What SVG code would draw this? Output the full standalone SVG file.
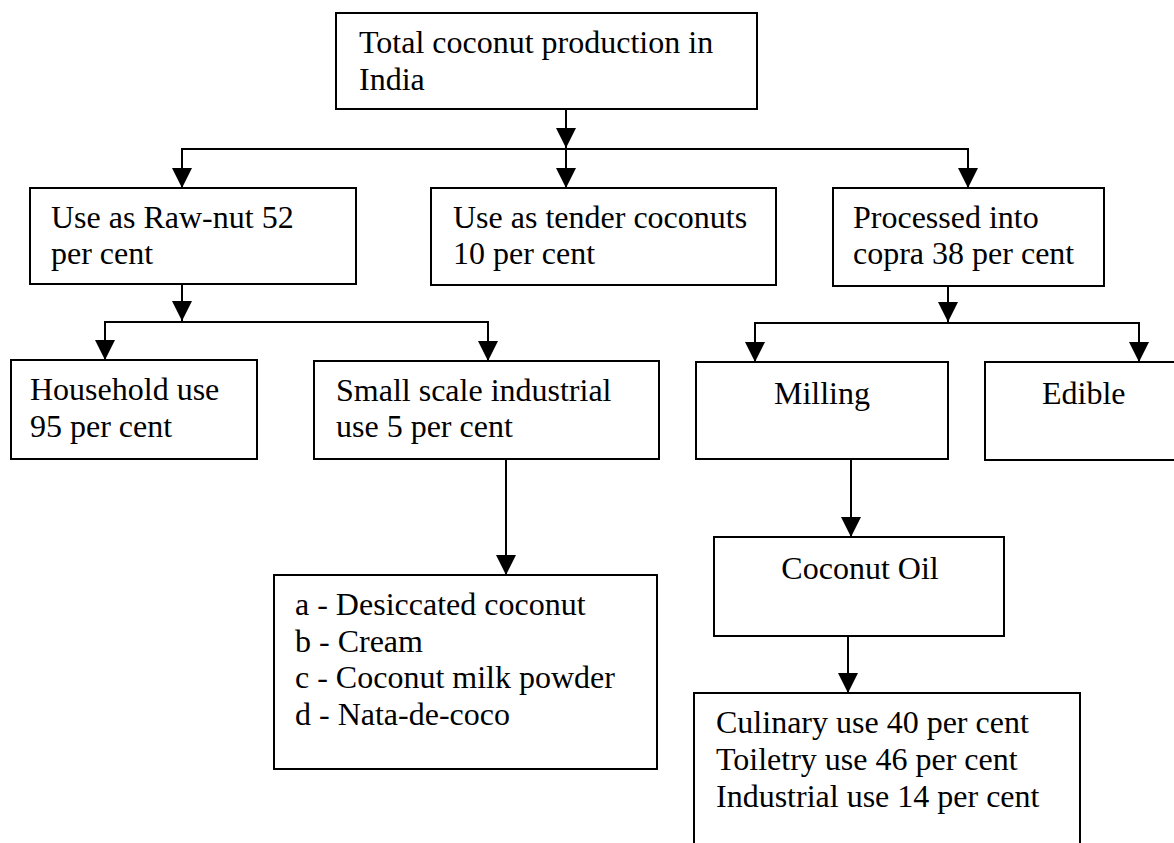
<svg xmlns="http://www.w3.org/2000/svg" width="1174" height="843" viewBox="0 0 1174 843">
<style>
.box{fill:#fff;stroke:#000;stroke-width:2}
.t{font-family:"Liberation Serif","Times New Roman",serif;font-size:32px;fill:#000}
.c{text-anchor:middle}
.ln{fill:none;stroke:#000;stroke-width:2}
.ar{marker-end:url(#arr)}
</style>
<defs>
<marker id="arr" markerUnits="userSpaceOnUse" markerWidth="20" markerHeight="20" viewBox="0 0 20 20" refX="20" refY="10" orient="auto">
<path d="M0,0 L20,10 L0,20 z" fill="#000"/>
</marker>
</defs>
<rect width="1174" height="843" fill="#fff"/>
<g id="connectors">
<path class="ln ar" d="M566 109 V148"/>
<path class="ln ar" d="M566 149 H182 V188"/>
<path class="ln ar" d="M566 149 V188"/>
<path class="ln ar" d="M566 149 H968 V188"/>
<path class="ln ar" d="M182 284 V321"/>
<path class="ln ar" d="M182 322 H105 V360"/>
<path class="ln ar" d="M182 322 H488 V361"/>
<path class="ln ar" d="M948 286 V322"/>
<path class="ln ar" d="M948 323 H755 V362"/>
<path class="ln ar" d="M948 323 H1139 V362"/>
<path class="ln ar" d="M506 459 V575"/>
<path class="ln ar" d="M851 459 V537"/>
<path class="ln ar" d="M848 636 V693"/>
</g>
<g id="total">
<rect class="box" x="336" y="13" width="421" height="96"/>
<text class="t" x="359" y="53">Total coconut production in</text>
<text class="t" x="359" y="90">India</text>
</g>
<g id="rawnut">
<rect class="box" x="30" y="188" width="326" height="96"/>
<text class="t" x="51" y="228">Use as Raw-nut 52</text>
<text class="t" x="51" y="264">per cent</text>
</g>
<g id="tender">
<rect class="box" x="431" y="188" width="345" height="97"/>
<text class="t" x="453" y="228">Use as tender coconuts</text>
<text class="t" x="453" y="264">10 per cent</text>
</g>
<g id="copra">
<rect class="box" x="833" y="188" width="271" height="98"/>
<text class="t" x="853" y="228">Processed into</text>
<text class="t" x="853" y="264">copra 38 per cent</text>
</g>
<g id="household">
<rect class="box" x="11" y="360" width="246" height="99"/>
<text class="t" x="30" y="400">Household use</text>
<text class="t" x="30" y="437">95 per cent</text>
</g>
<g id="smallscale">
<rect class="box" x="314" y="361" width="345" height="98"/>
<text class="t" x="336" y="401">Small scale industrial</text>
<text class="t" x="336" y="437">use 5 per cent</text>
</g>
<g id="milling">
<rect class="box" x="696" y="362" width="252" height="97"/>
<text class="t c" x="822" y="404">Milling</text>
</g>
<g id="edible">
<rect class="box" x="985" y="362" width="200" height="98"/>
<text class="t" x="1042" y="404">Edible</text>
</g>
<g id="products">
<rect class="box" x="274" y="575" width="383" height="194"/>
<text class="t" x="295" y="615">a - Desiccated coconut</text>
<text class="t" x="295" y="652">b - Cream</text>
<text class="t" x="295" y="688">c - Coconut milk powder</text>
<text class="t" x="295" y="725">d - Nata-de-coco</text>
</g>
<g id="coconutoil">
<rect class="box" x="714" y="537" width="290" height="99"/>
<text class="t c" x="860" y="579">Coconut Oil</text>
</g>
<g id="uses">
<rect class="box" x="694" y="693" width="386" height="170"/>
<text class="t" x="716" y="733">Culinary use 40 per cent</text>
<text class="t" x="716" y="770">Toiletry use 46 per cent</text>
<text class="t" x="716" y="807">Industrial use 14 per cent</text>
</g>
</svg>
